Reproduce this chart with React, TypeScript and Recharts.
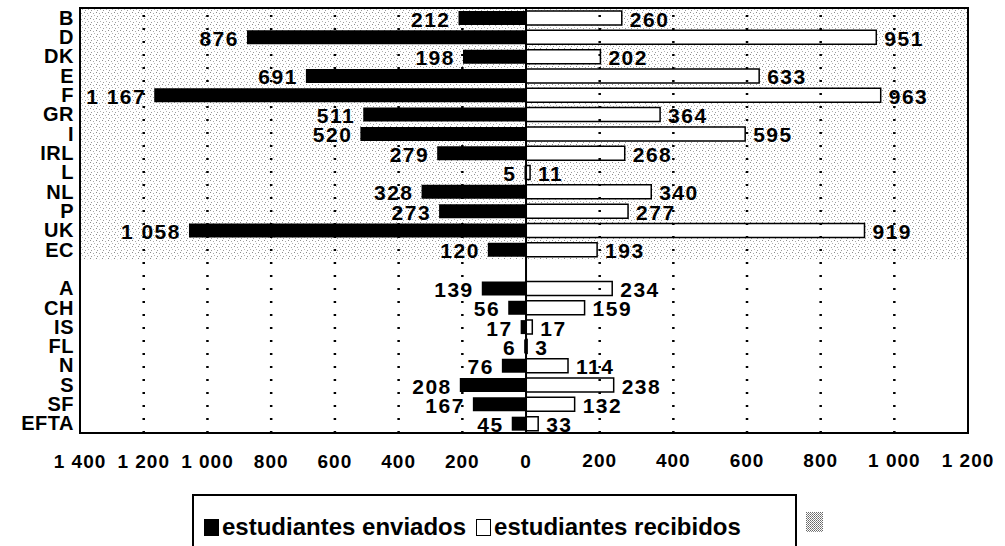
import {
  BarChart,
  Bar,
  XAxis,
  YAxis,
  ReferenceLine,
  ReferenceArea,
  LabelList,
  Legend,
} from 'recharts'

// rows from top to bottom; '' is the blank row between EC and EFTA blocks
const countries = ['B', 'D', 'DK', 'E', 'F', 'GR', 'I', 'IRL', 'L', 'NL', 'P', 'UK', 'EC', '', 'A', 'CH', 'IS', 'FL', 'N', 'S', 'SF', 'EFTA']
const sent      = [212, 876, 198, 691, 1167, 511, 520, 279, 5, 328, 273, 1058, 120, null, 139, 56, 17, 6, 76, 208, 167, 45]
const received  = [260, 951, 202, 633, 963, 364, 595, 268, 11, 340, 277, 919, 193, null, 234, 159, 17, 3, 114, 238, 132, 33]

const sentTicks     = [0, 200, 400, 600, 800, 1000, 1200, 1400]
const receivedTicks = [200, 400, 600, 800, 1000, 1200]
const sentDomain     = [-1387, 1400]
const receivedDomain = [-1211, 1200]
const ecRange = ['B', 'EC']

const FONT = '"Liberation Sans", Arial, Helvetica, sans-serif'
const INK  = '#000'

const data = countries.map((country, i) => ({
  country,
  sent: sent[i],
  received: received[i],
}))

const fmt = (v: number) => String(v).replace(/\B(?=(\d{3})+(?!\d))/g, ' ')

const valueText = {
  fontFamily: FONT,
  fontWeight: 'bold',
  fontSize: 21,
  letterSpacing: 1.5,
  fill: INK,
} as const

// eslint-disable-next-line @typescript-eslint/no-explicit-any
function SentLabel({ x, y, width, height, value }: any) {
  if (value == null) return null
  const left = Math.min(x, x + width)
  return (
    <text x={left - 8} y={y + height / 2 + 1} textAnchor="end" dominantBaseline="central" {...valueText}>
      {fmt(value)}
    </text>
  )
}

// eslint-disable-next-line @typescript-eslint/no-explicit-any
function ReceivedLabel({ x, y, width, height, value }: any) {
  if (value == null) return null
  const right = Math.max(x, x + width)
  return (
    <text x={right + 8} y={y + height / 2 + 1} textAnchor="start" dominantBaseline="central" {...valueText}>
      {fmt(value)}
    </text>
  )
}

function LegendBox() {
  const item = { display: 'flex', alignItems: 'center' } as const
  return (
    <div style={{ position: 'relative', width: 640, height: 70, fontFamily: FONT, fontWeight: 'bold', fontSize: 24, color: INK }}>
      <div style={{
        position: 'absolute', left: 0, top: 0, width: 605, height: 70,
        borderTop: '2px solid #000', borderLeft: '2px solid #000', borderRight: '2px solid #000',
        display: 'flex', alignItems: 'flex-start', paddingTop: 17, paddingLeft: 10, boxSizing: 'border-box',
        lineHeight: '28px',
      }}>
        <div style={item}>
          <span style={{ width: 15, height: 17, background: INK, marginRight: 3 }} />
          <span>estudiantes enviados</span>
        </div>
        <div style={{ ...item, marginLeft: 10 }}>
          <span style={{ width: 13, height: 15, border: '1.5px solid #000', background: '#fff', marginRight: 3 }} />
          <span>estudiantes recibidos</span>
        </div>
      </div>
      <svg style={{ position: 'absolute', left: 614, top: 18 }} width={17} height={20}>
        <defs>
          <pattern id="legendChecker" width="2" height="2" patternUnits="userSpaceOnUse">
            <rect width="2" height="2" fill="#fff" />
            <rect width="1" height="1" fill="#666" />
            <rect x="1" y="1" width="1" height="1" fill="#888" />
          </pattern>
        </defs>
        <rect width={17} height={20} fill="url(#legendChecker)" />
      </svg>
    </div>
  )
}

const tickStyle = { fill: INK, fontSize: 19, fontWeight: 'bold', fontFamily: FONT, letterSpacing: 1 }

export default function App() {
  return (
    <div style={{ position: 'absolute', left: 0, top: 0, background: '#fff' }}>
      <BarChart
        width={1005}
        height={546}
        data={data}
        layout="vertical"
        margin={{ top: 8, right: 37, left: 8, bottom: 111 }}
      >
        <defs>
          {/* transparent stipple so the dotted grid underneath stays visible */}
          <pattern id="stipple" width="6" height="6" patternUnits="userSpaceOnUse">
            <rect x="0" y="0" width="1" height="1" fill="#8c8c8c" />
            <rect x="3" y="1" width="1" height="1" fill="#a8a8a8" />
            <rect x="1" y="4" width="1" height="1" fill="#9a9a9a" />
            <rect x="4" y="3" width="1" height="1" fill="#b4b4b4" />
          </pattern>
        </defs>

        <XAxis
          xAxisId="sent"
          type="number"
          reversed
          domain={sentDomain}
          allowDataOverflow
          ticks={sentTicks}
          tickFormatter={fmt}
          height={1}
          tickLine={false}
          tickSize={0}
          tickMargin={21}
          axisLine={false}
          tick={tickStyle}
          interval={0}
        />
        <XAxis
          xAxisId="recv"
          type="number"
          domain={receivedDomain}
          allowDataOverflow
          ticks={receivedTicks}
          tickFormatter={fmt}
          height={1}
          tickLine={false}
          tickSize={0}
          tickMargin={21}
          axisLine={false}
          tick={tickStyle}
          interval={0}
        />
        <YAxis
          yAxisId="cat"
          type="category"
          dataKey="country"
          width={72}
          tickLine={false}
          tickSize={0}
          tickMargin={6}
          axisLine={false}
          interval={0}
          tick={{ fill: INK, fontSize: 20, fontWeight: 'bold', fontFamily: FONT, letterSpacing: 0.5 }}
        />
        <YAxis yAxisId="cat2" type="category" dataKey="country" hide />

        <ReferenceArea
          xAxisId="sent"
          yAxisId="cat"
          y1={ecRange[0]}
          y2={ecRange[1]}
          fill="url(#stipple)"
          fillOpacity={1}
          stroke="none"
          ifOverflow="visible"
        />

        {sentTicks.filter((t) => t !== 0 && t !== sentDomain[1]).map((t) => (
          <ReferenceLine key={`s${t}`} xAxisId="sent" yAxisId="cat" x={t}
            stroke={INK} strokeWidth={2.5} strokeDasharray="2 11" />
        ))}
        {receivedTicks.filter((t) => t !== receivedDomain[1]).map((t) => (
          <ReferenceLine key={`r${t}`} xAxisId="recv" yAxisId="cat" x={t}
            stroke={INK} strokeWidth={2.5} strokeDasharray="2 11" />
        ))}

        <Bar
          xAxisId="sent"
          yAxisId="cat"
          dataKey="sent"
          name="estudiantes enviados"
          fill={INK}
          barSize={14}
          isAnimationActive={false}
        >
          <LabelList dataKey="sent" content={<SentLabel />} />
        </Bar>
        <Bar
          xAxisId="recv"
          yAxisId="cat2"
          dataKey="received"
          name="estudiantes recibidos"
          fill="#fff"
          stroke={INK}
          strokeWidth={1.5}
          barSize={14}
          isAnimationActive={false}
        >
          <LabelList dataKey="received" content={<ReceivedLabel />} />
        </Bar>

        <ReferenceLine xAxisId="recv" yAxisId="cat" x={0} stroke={INK} strokeWidth={2} />
        <ReferenceArea
          xAxisId="recv"
          yAxisId="cat"
          x1={receivedDomain[0]}
          x2={receivedDomain[1]}
          fill="none"
          stroke={INK}
          strokeWidth={2}
          ifOverflow="visible"
        />

        <Legend
          layout="horizontal"
          verticalAlign="middle"
          align="center"
          content={<LegendBox />}
          wrapperStyle={{ position: 'absolute', left: 192, top: 494, width: 640, height: 70 }}
        />
      </BarChart>
    </div>
  )
}
